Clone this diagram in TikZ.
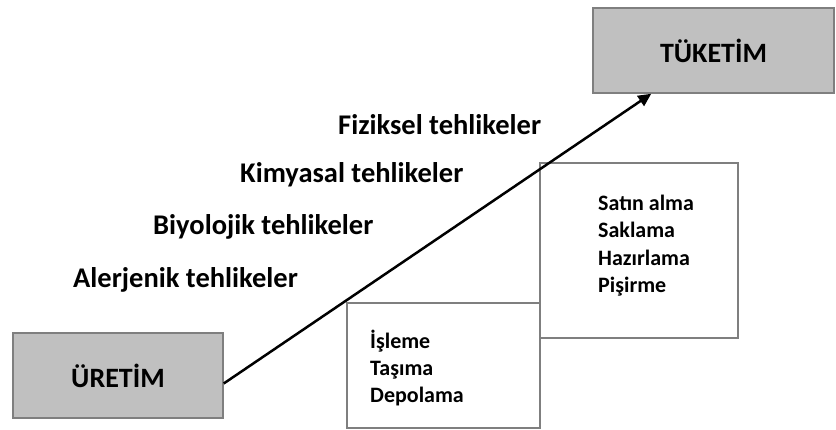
\documentclass[tikz,border=0pt]{standalone}
\usepackage{fontspec}
\setmainfont{Carlito}
\usepackage{xcolor}
\usetikzlibrary{arrows.meta}
\definecolor{boxgray}{HTML}{C0C0C0}
\definecolor{edgegray}{HTML}{7F7F7F}

\begin{document}
\begin{tikzpicture}[x=1pt,y=-1pt,
    stagebox/.style={draw=edgegray,line width=1.5pt,fill=boxgray,inner sep=0pt,
      font=\fontsize{28}{32}\selectfont\bfseries},
    listbox/.style={draw=edgegray,line width=1.5pt,fill=white,inner sep=0pt},
    listtext/.style={align=left,inner sep=0pt,
      font=\fontsize{22}{27.3}\selectfont\bfseries},
    hazard/.style={anchor=west,inner sep=0pt,font=\fontsize{28.5}{32}\selectfont\bfseries}]
  \useasboundingbox (0,0) rectangle (836,430);
  % stages
  \node[stagebox,minimum width=210pt,minimum height=85pt] (uretim) at (118,375.5) {ÜRETİM};
  \node[stagebox,minimum width=241pt,minimum height=85pt] (tuketim) at (713.5,50.5) {TÜKETİM};
  % steps in between
  \node[listbox,minimum width=193pt,minimum height=125pt] (lowbox) at (443.5,365.5) {};
  \node[listbox,minimum width=198pt,minimum height=175pt] (highbox) at (639,250.5) {};
  \node[listtext,anchor=north west] (isleme) at (370,329.5) {İşleme\\Taşıma\\Depolama};
  \node[listtext,anchor=north west] (satin) at (598,195) {Satın alma\\Saklama\\Hazırlama\\Pişirme};
  % hazards
  \foreach \x/\y/\name/\label in {338/125/fiz/Fiziksel, 240/175/kim/Kimyasal,
                                  153/227/biy/Biyolojik, 73/280/ale/Alerjenik} {
    \node[hazard] (\name) at (\x,\y) {\label{} tehlikeler};
  }
  \coordinate (tip) at ([xshift=59pt]tuketim.south west);
  \draw[line width=2.5pt,-{Triangle[length=13pt,width=12pt]}] ([yshift=-8pt]uretim.east) -- (tip);
\end{tikzpicture}
\end{document}
